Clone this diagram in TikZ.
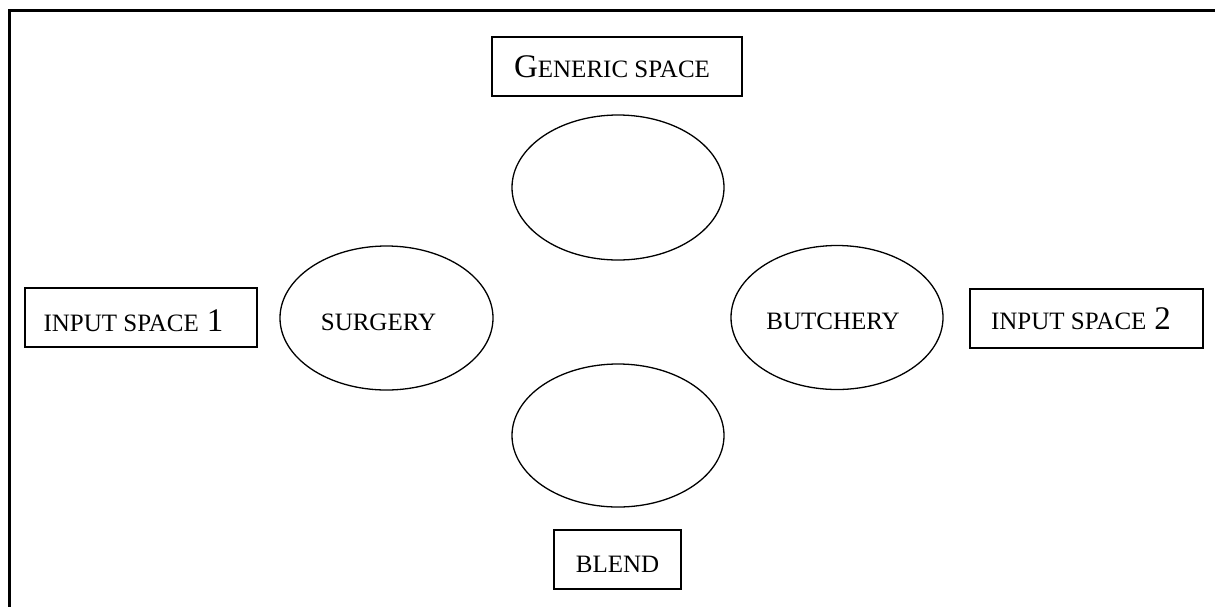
\documentclass[tikz,border=0pt]{standalone}
\usepackage{fontspec}
\setmainfont{Liberation Serif}
\usetikzlibrary{shapes.geometric}
\newcommand{\smc}[1]{{\fontsize{25}{28}\selectfont #1}}
\newcommand{\bigc}[1]{{\fontsize{33}{36}\selectfont #1}}
\tikzset{
  spacebox/.style={draw, line width=1.3pt, rectangle, inner sep=0pt},
  spaceoval/.style={draw, line width=1.3pt, ellipse, inner sep=0pt, minimum width=212pt, minimum height=144pt},
}
\begin{document}
\begin{tikzpicture}[x=1pt,y=-1pt]
\useasboundingbox (0,0) rectangle (1215,606);
\fill[white] (0,0) rectangle (1215,606);
% frame
\draw[line width=2.4pt] (9.5,610) -- (9.5,10.5) -- (1220,10.5);
% boxes
\node[spacebox, minimum width=250pt, minimum height=59pt, text height=21pt, text depth=0pt] (generic) at (617,66.5)
  {\bigc{G}\smc{ENERIC SPACE}\kern10pt};
\node[spacebox, minimum width=232pt, minimum height=59pt, text height=27pt, text depth=0pt] (in1) at (141,317.5)
  {\smc{INPUT SPACE}\hspace{8pt}\bigc{1}\kern15pt};
\node[spacebox, minimum width=233pt, minimum height=59pt, text height=22pt, text depth=0pt] (in2) at (1086.5,318.5)
  {\smc{INPUT SPACE}\hspace{8pt}\bigc{2}\kern11pt};
\node[spacebox, minimum width=127pt, minimum height=59pt, text height=25pt, text depth=0pt] (blend) at (617.5,559.5)
  {\smc{BLEND}};
% ellipses
\node[spaceoval, minimum height=145pt] (top) at (618,187.5) {};
\node[spaceoval, minimum height=143pt] (bottom) at (618,435.5) {};
\node[spaceoval, minimum width=213pt, text height=24pt, text depth=0pt] (surgery) at (386.5,318) {\smc{SURGERY}\kern16pt};
\node[spaceoval, text height=23.5pt, text depth=0pt] (butchery) at (837,317.5) {\smc{BUTCHERY}\kern8pt};
\end{tikzpicture}
\end{document}
